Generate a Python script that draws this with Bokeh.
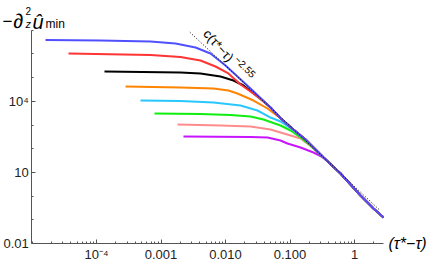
import math
from bokeh.plotting import figure
from bokeh.models import FixedTicker, Label, CustomJSTickFormatter
from bokeh.embed import file_html
from bokeh.resources import INLINE

# ---- data ----
tail_tau = [0.331, 0.607, 1.24, 1.97, 2.82]
tail_u = [42.6, 9.0, 1.06, 0.30, 0.125]

blue_tau = [1.62e-5, 1.15e-4, 6.87e-4, 1.68e-3, 3.43e-3, 5.85e-3, 0.0100, 0.0244, 0.0499, 0.0713, 0.113, 0.174]
blue_u = [3.86e6, 3.67e6, 3.33e6, 2.75e6, 1.86e6, 1.04e6, 3.24e5, 3.47e4, 5470, 1940, 646, 244]

red_tau = [3.68e-5, 6.87e-4, 2.00e-3, 4.09e-3, 7.00e-3, 0.0111, 0.0171, 0.0244, 0.0325, 0.0417, 0.0499, 0.0713, 0.113, 0.174]
red_u = [1.04e6, 8.99e5, 7.40e5, 5.27e5, 2.94e5, 1.49e5, 5.12e4, 2.59e4, 1.45e4, 8320, 5470, 1940, 646, 244]

black_tau = [1.33e-4, 2.00e-3, 4.09e-3, 8.36e-3, 0.0133, 0.0190, 0.0262, 0.0375, 0.0499, 0.0713, 0.113, 0.174]
black_u = [1.81e5, 1.64e5, 1.49e5, 1.11e5, 7.55e4, 4.65e4, 2.35e4, 1.08e4, 5470, 1940, 646, 244]

orange_tau = [2.82e-4, 2.00e-3, 6.52e-3, 0.0111, 0.0153, 0.0272, 0.0448, 0.0713, 0.113, 0.174]
orange_u = [4.21e4, 3.82e4, 3.47e4, 2.86e4, 2.13e4, 1.08e4, 4970, 1940, 646, 244]

cyan_tau = [4.81e-4, 2.00e-3, 6.52e-3, 0.0171, 0.0313, 0.0499, 0.0713, 0.113, 0.174]
cyan_u = [1.08e4, 1.03e4, 8890, 6650, 4090, 2070, 1410, 600, 244]

green_tau = [7.93e-4, 4.09e-3, 0.0120, 0.0244, 0.0388, 0.0713, 0.102, 0.146, 0.208]
green_u = [3050, 2910, 2640, 2290, 1710, 953, 586, 297, 136]

pink_tau = [1.80e-3, 8.36e-3, 0.0244, 0.0499, 0.0713, 0.102, 0.146, 0.208]
pink_u = [1050, 953, 865, 646, 483, 361, 269, 130]

magenta_tau = [2.23e-3, 0.0244, 0.0448, 0.0713, 0.0914, 0.146, 0.231]
magenta_u = [327, 312, 297, 222, 166, 112, 69.2]

fit_tau = [2.8e-3, 2.5]
fit_u = [8.24e6, 0.246]

x_major = [1e-4, 1e-3, 1e-2, 1e-1, 1.0]
x_labels = ["10\u207b\u2074", "0.001", "0.010", "0.100", "1"]
y_major = [0.01, 10.0, 1e4]
y_labels = ["0.01", "10", "10\u2074"]
y_minor = [0.1, 1.0, 100.0, 1000.0, 1e5, 1e6, 1e7]

# axis extents (data units)
x_lo, x_hi = 9.9e-6, 2.85
y_lo, y_hi = 0.01, 1e7

# ---- layout: the frame fills the whole canvas, axes are drawn at fixed locations ----
W, H = 436, 261
X_PX_PER_DEC, X_PX_AT_1 = 64.5, 354.0     # screen x of tau=1 and pixels per decade
Y_PX_PER_DEC, Y_PX_AT_001 = 23.7, 243.0   # screen y of u=0.01 and pixels per decade


def px_to_x(px):
    return 10 ** ((px - X_PX_AT_1) / X_PX_PER_DEC)


def py_to_y(py):
    return 10 ** ((Y_PX_AT_001 - py) / Y_PX_PER_DEC - 2)


series = [
    (magenta_tau, magenta_u, "#c814ff"),
    (pink_tau, pink_u, "#ff8c8c"),
    (green_tau, green_u, "#10ee10"),
    (cyan_tau, cyan_u, "#28c8ff"),
    (orange_tau, orange_u, "#ff8400"),
    (black_tau, black_u, "#000000"),
    (red_tau, red_u, "#ff3434"),
    (blue_tau, blue_u, "#5050ff"),
]

p = figure(width=W, height=H, x_axis_type="log", y_axis_type="log",
           x_range=(px_to_x(0), px_to_x(W)), y_range=(py_to_y(H), py_to_y(0)),
           output_backend="svg", toolbar_location=None)
p.min_border = 0
p.min_border_left = 0
p.min_border_right = 0
p.min_border_top = 0
p.min_border_bottom = 0
p.outline_line_color = None
p.grid.visible = False

for tx, uy, col in series:
    p.line(list(tx) + tail_tau, list(uy) + tail_u, line_color=col, line_width=2)

p.line(fit_tau, fit_u, line_color="black", line_width=1, line_dash="1 2")

x_minor = [m * 10.0 ** e for e in range(-5, 1) for m in range(1, 10) if m * 10.0 ** e <= x_hi]
p.xaxis.ticker = FixedTicker(ticks=x_major, minor_ticks=x_minor)
p.yaxis.ticker = FixedTicker(ticks=y_major, minor_ticks=y_minor)

fmt_code = """
for (let i = 0; i < vals.length; i++) {
  if (Math.abs(Math.log10(vals[i]) - Math.log10(tick)) < 1e-6) return labs[i];
}
return "";
"""
p.xaxis.formatter = CustomJSTickFormatter(args=dict(vals=x_major, labs=x_labels), code=fmt_code)
p.yaxis.formatter = CustomJSTickFormatter(args=dict(vals=y_major, labs=y_labels), code=fmt_code)

p.xaxis.fixed_location = y_lo
p.yaxis.fixed_location = x_lo
p.xaxis.bounds = (x_lo, x_hi)
p.yaxis.bounds = (y_lo, y_hi)

for ax in (p.xaxis, p.yaxis):
    ax.axis_line_color = "#555555"
    ax.major_tick_line_color = "#555555"
    ax.minor_tick_line_color = "#555555"
    ax.major_tick_in = 4
    ax.major_tick_out = 0
    ax.minor_tick_in = 2
    ax.minor_tick_out = 0
    ax.major_label_text_font = "Liberation Sans"
    ax.major_label_text_font_size = "13px"
    ax.major_label_text_color = "#222222"
    ax.major_label_standoff = 3


def lab(text, px, py, size, style="normal", align="left", baseline="alphabetic", angle=0.0):
    p.add_layout(Label(x=px_to_x(px), y=py_to_y(py), text=text,
                       text_font="Liberation Sans", text_font_size=f"{size}px",
                       text_font_style=style, text_align=align, text_baseline=baseline,
                       angle=angle, text_color="black"))


# y-axis label: -∂²_z û_min
lab("\u2212", 2, 20, 17)
lab("\u2202", 13, 20, 20, style="italic")
lab("2", 25, 10, 10)
lab("z", 25, 23, 11, style="italic")
lab("\u00fb", 32, 21, 20, style="italic")
lab("min", 45, 23, 12)

# x-axis label
lab("(\u03c4*\u2212\u03c4)", 388, 243, 16, style="italic", baseline="middle")

# fit annotation
lab("c(\u03c4*\u2212\u03c4)", 218, 45, 13, align="center", baseline="middle", angle=-0.84)
lab("\u22122.55", 245, 66, 10, align="center", baseline="middle", angle=-0.8)

open("out.html", "w").write(file_html(p, INLINE))
